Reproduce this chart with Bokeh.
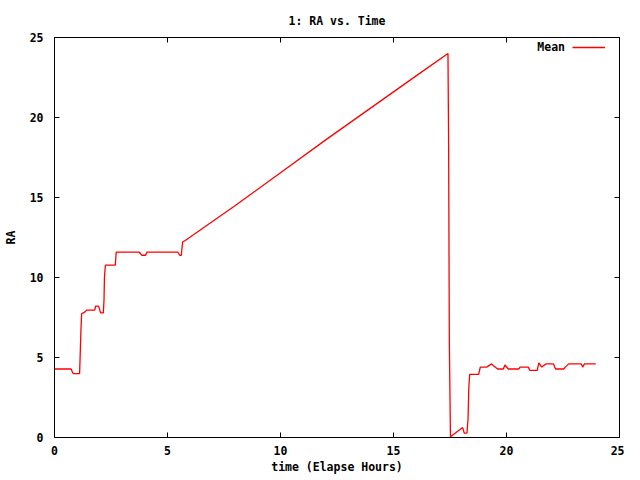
from bokeh.plotting import figure
from bokeh.models import (LinearAxis, SingleIntervalTicker, Range1d, Legend,
                          LegendItem, Label)
from bokeh.embed import file_html
from bokeh.resources import INLINE

# ---- data ----
time_hours = [0.0, 0.73, 0.83, 1.11, 1.13, 1.17, 1.20, 1.35, 1.42, 1.78, 1.82,
              1.95, 2.04, 2.16, 2.19, 2.21, 2.25, 2.69, 2.73, 3.75, 3.87, 4.03,
              4.09, 5.46, 5.54, 5.61, 5.67, 5.80, 8.0, 10.0, 12.0, 14.0, 16.0,
              17.41, 17.44, 17.47, 17.52, 18.06, 18.13, 18.25, 18.30, 18.33,
              18.37, 18.77, 18.84, 19.12, 19.34, 19.41, 19.61, 19.86, 19.93,
              20.08, 20.54, 20.60, 20.96, 21.03, 21.36, 21.43, 21.56, 21.74,
              22.08, 22.17, 22.53, 22.60, 22.75, 23.31, 23.37, 23.45, 23.95]
ra_mean = [4.28, 4.28, 3.99, 3.99, 4.86, 6.70, 7.73, 7.85, 7.96, 7.96, 8.21,
           8.21, 7.79, 7.79, 8.56, 10.0, 10.77, 10.77, 11.58, 11.58, 11.39, 11.39,
           11.58, 11.58, 11.39, 11.39, 12.22, 12.33, 14.50, 16.55, 18.60, 20.60, 22.60,
           24.0, 18.1, 6.07, 0.05, 0.62, 0.27, 0.27, 1.20, 3.05,
           3.95, 3.95, 4.40, 4.40, 4.60, 4.50, 4.28, 4.28, 4.53,
           4.28, 4.28, 4.40, 4.40, 4.20, 4.20, 4.66, 4.40, 4.60,
           4.60, 4.28, 4.28, 4.40, 4.60, 4.60, 4.40, 4.60, 4.60]
x_ticks_interval = 5
y_ticks_interval = 5
series_name = "Mean"
title_text = "1: RA vs. Time"
x_label = "time (Elapse Hours)"
y_label = "RA"

FONT = "DejaVu Sans Mono"
FSIZE = "11.5px"

p = figure(width=624, height=476, output_backend="svg", toolbar_location=None,
           x_range=Range1d(0, 25), y_range=Range1d(0, 25),
           min_border_left=54, min_border_right=5, min_border_top=37,
           min_border_bottom=39, title=title_text)

p.background_fill_color = "white"
p.border_fill_color = "white"
p.outline_line_color = "black"
p.outline_line_alpha = 1.0
p.xgrid.visible = False
p.ygrid.visible = False

p.title.align = "center"
p.title.text_font = FONT
p.title.text_font_size = FSIZE
p.title.text_font_style = "bold"
p.title.text_color = "black"
p.title.standoff = 11

def style_axis(ax, show_labels=True):
    ax.axis_line_color = "black"
    ax.major_tick_line_color = "black"
    ax.major_tick_in = 5
    ax.major_tick_out = 0
    ax.minor_tick_line_color = None
    ax.major_label_text_font = FONT
    ax.major_label_text_font_style = "bold"
    ax.major_label_text_color = "black"
    ax.axis_label_text_font = FONT
    ax.axis_label_text_font_style = "bold"
    ax.axis_label_text_font_size = FSIZE
    ax.axis_label_text_color = "black"
    ax.major_label_text_font_size = FSIZE
    if not show_labels:
        ax.major_label_text_font_size = "1px"
        ax.major_label_text_color = None
        ax.major_label_standoff = 0

xa = p.xaxis[0]
ya = p.yaxis[0]
xa.ticker = SingleIntervalTicker(interval=x_ticks_interval)
ya.ticker = SingleIntervalTicker(interval=y_ticks_interval)
style_axis(xa)
style_axis(ya)
xa.axis_label = x_label
ya.axis_label = y_label
xa.major_label_standoff = 4
xa.axis_label_standoff = 2
ya.major_label_standoff = 7
ya.axis_label_standoff = 9

top = LinearAxis(ticker=SingleIntervalTicker(interval=x_ticks_interval))
style_axis(top, show_labels=False)
p.add_layout(top, "above")
right = LinearAxis(ticker=SingleIntervalTicker(interval=y_ticks_interval))
style_axis(right, show_labels=False)
p.add_layout(right, "right")

r = p.line(time_hours, ra_mean, line_color="red", line_width=1.3)

legend = Legend(items=[LegendItem(label=" ", renderers=[r])],
                location="top_right", margin=0, padding=0, spacing=0,
                border_line_color=None, background_fill_alpha=0,
                glyph_width=33, glyph_height=20, label_width=14,
                label_standoff=0, label_text_font_size="1px")
p.add_layout(legend)

p.add_layout(Label(x=22.59, y=24.38, text=series_name, text_align="right",
                   text_baseline="middle", text_font=FONT,
                   text_font_size=FSIZE, text_font_style="bold",
                   text_color="black"))

open("out.html", "w").write(file_html(p, INLINE))
